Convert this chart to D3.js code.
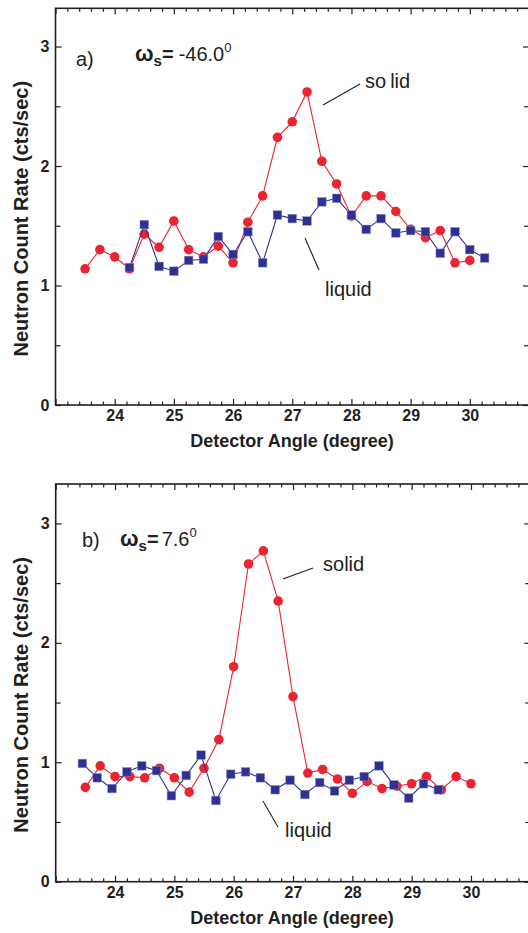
<!DOCTYPE html>
<html>
<head>
<meta charset="utf-8">
<script src="https://cdn.jsdelivr.net/npm/d3@7"></script>
<style>
  html, body { margin: 0; padding: 0; background: #fff; }
  svg { display: block; }
</style>
</head>
<body>
<div id="chart"></div>
<script>
// Neutron count rate vs detector angle, two sample orientations

// panel a) omega_s = -46.0
const anglesSolidA = [23.5, 23.75, 24, 24.25, 24.5, 24.75, 25, 25.25, 25.5, 25.75, 26, 26.25, 26.5,
    26.75, 27, 27.25, 27.5, 27.75, 28, 28.25, 28.5, 28.75, 29, 29.25, 29.5, 29.75, 30];
const solidA = [1.14, 1.30, 1.24, 1.14, 1.43, 1.32, 1.54, 1.30, 1.24, 1.33, 1.19, 1.53, 1.75,
    2.24, 2.37, 2.62, 2.04, 1.85, 1.58, 1.75, 1.75, 1.62, 1.47, 1.40, 1.46, 1.19, 1.21];
const anglesLiquidA = [24.25, 24.5, 24.75, 25, 25.25, 25.5, 25.75, 26, 26.25, 26.5, 26.75, 27, 27.25,
    27.5, 27.75, 28, 28.25, 28.5, 28.75, 29, 29.25, 29.5, 29.75, 30, 30.25];
const liquidA = [1.15, 1.51, 1.16, 1.12, 1.21, 1.22, 1.41, 1.26, 1.45, 1.19, 1.59, 1.56, 1.54,
    1.70, 1.73, 1.59, 1.47, 1.56, 1.44, 1.46, 1.45, 1.27, 1.45, 1.30, 1.23];

// panel b) omega_s = 7.6
const anglesSolidB = [23.5, 23.75, 24, 24.25, 24.5, 24.75, 25, 25.25, 25.5, 25.75, 26, 26.25, 26.5,
    26.75, 27, 27.25, 27.5, 27.75, 28, 28.25, 28.5, 28.75, 29, 29.25, 29.5, 29.75, 30];
const solidB = [0.79, 0.97, 0.88, 0.88, 0.87, 0.95, 0.87, 0.75, 0.95, 1.19, 1.80, 2.66, 2.77,
    2.35, 1.55, 0.91, 0.94, 0.86, 0.74, 0.84, 0.78, 0.80, 0.82, 0.88, 0.77, 0.88, 0.82];
const anglesLiquidB = [23.45, 23.7, 23.95, 24.2, 24.45, 24.7, 24.95, 25.2, 25.45, 25.7, 25.95, 26.2,
    26.45, 26.7, 26.95, 27.2, 27.45, 27.7, 27.95, 28.2, 28.45, 28.7, 28.95, 29.2, 29.45];
const liquidB = [0.99, 0.87, 0.78, 0.92, 0.97, 0.93, 0.72, 0.89, 1.06, 0.68, 0.90, 0.92,
    0.87, 0.77, 0.85, 0.73, 0.83, 0.76, 0.85, 0.88, 0.97, 0.81, 0.70, 0.82, 0.77];

// ticks
const xMajor = [23, 24, 25, 26, 27, 28, 29, 30, 31];
const xTickLabels = [24, 25, 26, 27, 28, 29, 30];
const xMinor = d3.range(23.2, 31, 0.2).filter(v => Math.abs(v - Math.round(v)) > 0.01);
const yMajor = [0, 1, 2, 3];
const yMinor = [0.5, 1.5, 2.5];

const RED = '#ea2430';
const BLUE = '#2e3192';
const INK = '#231f20';
const FONT = '"Liberation Sans", Arial, Helvetica, sans-serif';

const svg = d3.select('#chart').append('svg')
    .attr('width', 528)
    .attr('height', 933);

function drawPanel(p) {
    const x = d3.scaleLinear().domain([23, 31]).range([p.left, p.right]);
    const y = d3.scaleLinear().domain([0, p.yTop]).range([p.bottom, p.top]);

    const g = svg.append('g');

    // helper to strip domain paths and style ticks
    const styleAxis = sel => {
        sel.select('.domain').remove();
        sel.attr('color', INK)
            .attr('font-family', FONT)
            .attr('font-size', 16)
            .attr('font-weight', 'bold');
        sel.selectAll('.tick line').attr('stroke-width', 1.2);
    };

    // bottom axis, major + labels
    g.append('g')
        .attr('transform', `translate(0,${p.bottom})`)
        .call(d3.axisBottom(x).tickValues(xMajor).tickSizeInner(-6).tickSizeOuter(0).tickPadding(5)
            .tickFormat(d => xTickLabels.includes(d) ? d : ''))
        .call(styleAxis);
    g.append('g')
        .attr('transform', `translate(0,${p.bottom})`)
        .call(d3.axisBottom(x).tickValues(xMinor).tickSizeInner(-3.5).tickSizeOuter(0).tickFormat(''))
        .call(styleAxis);

    // top axis (ticks only)
    g.append('g')
        .attr('transform', `translate(0,${p.top})`)
        .call(d3.axisTop(x).tickValues(xMajor).tickSizeInner(-6).tickSizeOuter(0).tickFormat(''))
        .call(styleAxis);
    g.append('g')
        .attr('transform', `translate(0,${p.top})`)
        .call(d3.axisTop(x).tickValues(xMinor).tickSizeInner(-3.5).tickSizeOuter(0).tickFormat(''))
        .call(styleAxis);

    // left axis
    g.append('g')
        .attr('transform', `translate(${p.left},0)`)
        .call(d3.axisLeft(y).tickValues(yMajor).tickSizeInner(-6).tickSizeOuter(0).tickPadding(6)
            .tickFormat(d3.format('d')))
        .call(styleAxis);
    g.append('g')
        .attr('transform', `translate(${p.left},0)`)
        .call(d3.axisLeft(y).tickValues(yMinor).tickSizeInner(-5).tickSizeOuter(0).tickFormat(''))
        .call(styleAxis);

    // right axis
    g.append('g')
        .attr('transform', `translate(${p.right},0)`)
        .call(d3.axisRight(y).tickValues(yMajor).tickSizeInner(-6).tickSizeOuter(0).tickFormat(''))
        .call(styleAxis);
    g.append('g')
        .attr('transform', `translate(${p.right},0)`)
        .call(d3.axisRight(y).tickValues(yMinor).tickSizeInner(-5).tickSizeOuter(0).tickFormat(''))
        .call(styleAxis);

    // frame
    g.append('rect')
        .attr('x', p.left)
        .attr('y', p.top)
        .attr('width', p.right - p.left)
        .attr('height', p.bottom - p.top)
        .attr('fill', 'none')
        .attr('stroke', INK)
        .attr('stroke-width', 1.6);

    // axis titles
    g.append('text')
        .attr('x', 292)
        .attr('y', p.bottom + 42)
        .attr('text-anchor', 'middle')
        .attr('font-family', FONT)
        .attr('font-weight', 'bold')
        .attr('font-size', 18)
        .attr('fill', INK)
        .text('Detector Angle (degree)');

    g.append('text')
        .attr('transform', `translate(28,${(p.top + p.bottom) / 2 + 12}) rotate(-90)`)
        .attr('text-anchor', 'middle')
        .attr('font-family', FONT)
        .attr('font-weight', 'bold')
        .attr('font-size', 20)
        .attr('fill', INK)
        .text('Neutron Count Rate (cts/sec)');

    // series
    const solid = p.solidX.map((d, i) => ({ a: d, v: p.solidY[i] }));
    const liquid = p.liquidX.map((d, i) => ({ a: d, v: p.liquidY[i] }));
    const line = d3.line().x(d => x(d.a)).y(d => y(d.v));

    g.append('path')
        .datum(solid)
        .attr('fill', 'none')
        .attr('stroke', RED)
        .attr('stroke-width', 1.1)
        .attr('d', line);
    g.selectAll('.solid-pt')
        .data(solid)
        .enter()
        .append('circle')
        .attr('class', 'solid-pt')
        .attr('cx', d => x(d.a))
        .attr('cy', d => y(d.v))
        .attr('r', 4.8)
        .attr('fill', RED);

    g.append('path')
        .datum(liquid)
        .attr('fill', 'none')
        .attr('stroke', BLUE)
        .attr('stroke-width', 1.1)
        .attr('d', line);
    const sq = 8.6;
    g.selectAll('.liquid-pt')
        .data(liquid)
        .enter()
        .append('rect')
        .attr('class', 'liquid-pt')
        .attr('x', d => x(d.a) - sq / 2)
        .attr('y', d => y(d.v) - sq / 2)
        .attr('width', sq)
        .attr('height', sq)
        .attr('fill', BLUE)
        .attr('stroke', '#8c8fc4')
        .attr('stroke-width', 0.5);

    // annotations
    const txt = (xx, yy) => g.append('text')
        .attr('x', xx).attr('y', yy)
        .attr('font-family', FONT)
        .attr('font-size', 20)
        .attr('fill', INK);

    txt(p.tag[0], p.tag[1]).text(p.tag[2]);

    const om = txt(p.omega[0], p.omega[1]);
    om.append('tspan').attr('font-weight', 'bold').attr('font-size', 22).text('\u03c9');
    om.append('tspan').attr('font-weight', 'bold').attr('font-size', 15).attr('dy', 5).text('s');
    om.append('tspan').attr('font-weight', 'bold').attr('dy', -5).text('=');
    om.append('tspan').attr('dx', p.omega[3]).text(p.omega[2]);
    om.append('tspan').attr('font-size', 13).attr('dy', -9).text('0');

    const so = txt(p.solidLabel[0], p.solidLabel[1]);
    so.append('tspan').text('so');
    so.append('tspan').attr('dx', p.solidLabel[2]).text('lid');
    g.append('line')
        .attr('x1', p.solidLead[0]).attr('y1', p.solidLead[1])
        .attr('x2', p.solidLead[2]).attr('y2', p.solidLead[3])
        .attr('stroke', INK).attr('stroke-width', 1.1);

    txt(p.liquidLabel[0], p.liquidLabel[1]).text('liquid');
    g.append('line')
        .attr('x1', p.liquidLead[0]).attr('y1', p.liquidLead[1])
        .attr('x2', p.liquidLead[2]).attr('y2', p.liquidLead[3])
        .attr('stroke', INK).attr('stroke-width', 1.1);
}

drawPanel({
    left: 55.5, right: 529, top: 8.3, bottom: 405, yTop: 3.32,
    solidX: anglesSolidA, solidY: solidA,
    liquidX: anglesLiquidA, liquidY: liquidA,
    tag: [76, 66, 'a)'],
    omega: [135, 61, '-46.0', 5],
    solidLabel: [365, 88, 4],
    solidLead: [323, 105, 360, 84],
    liquidLabel: [325, 296],
    liquidLead: [305, 238, 319, 270]
});

drawPanel({
    left: 55.7, right: 530.3, top: 484, bottom: 881.7, yTop: 3.33,
    solidX: anglesSolidB, solidY: solidB,
    liquidX: anglesLiquidB, liquidY: liquidB,
    tag: [82, 547, 'b)'],
    omega: [120, 546, '7.6', 3],
    solidLabel: [323, 571, 0],
    solidLead: [283, 579, 313, 568],
    liquidLabel: [285, 837],
    liquidLead: [263, 801, 278, 827]
});
</script>
</body>
</html>
